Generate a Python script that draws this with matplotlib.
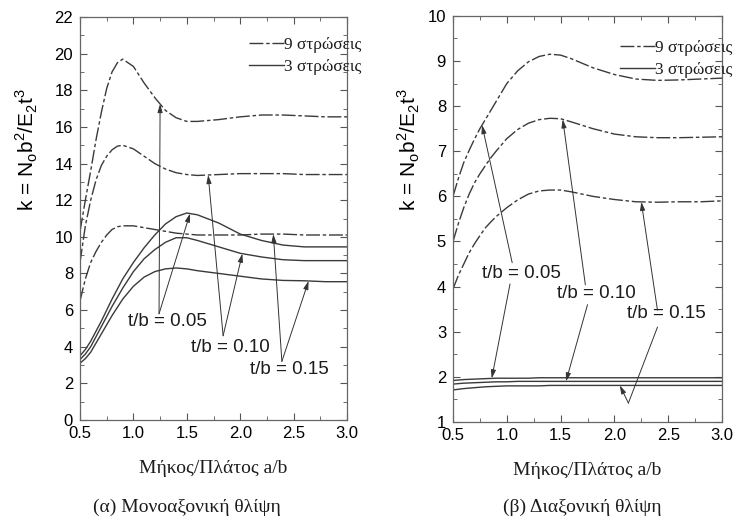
import matplotlib
matplotlib.use("Agg")
import matplotlib.pyplot as plt
from matplotlib.ticker import MultipleLocator, FormatStrFormatter
import numpy as np

ab = [0.5, 0.55, 0.6, 0.65, 0.7, 0.75, 0.8, 0.85, 0.9, 1.0, 1.1, 1.2, 1.3, 1.4,
      1.5, 1.6, 1.8, 2.0, 2.2, 2.4, 2.6, 2.8, 3.0]

# (a) uniaxial compression, 9 layers
uni9_005 = [10.3, 12.0, 13.6, 15.3, 16.8, 18.1, 19.0, 19.5, 19.7, 19.3, 18.4, 17.6,
            16.9, 16.5, 16.3, 16.3, 16.4, 16.55, 16.65, 16.65, 16.6, 16.55, 16.55]
uni9_010 = [8.6, 10.6, 12.0, 13.1, 13.9, 14.4, 14.75, 14.95, 15.0, 14.8, 14.4, 14.0,
            13.7, 13.5, 13.4, 13.35, 13.4, 13.45, 13.45, 13.45, 13.4, 13.4, 13.4]
uni9_015 = [6.5, 7.7, 8.6, 9.2, 9.7, 10.1, 10.4, 10.55, 10.6, 10.6, 10.5, 10.4,
            10.3, 10.2, 10.15, 10.1, 10.1, 10.1, 10.15, 10.15, 10.1, 10.1, 10.1]
# (a) uniaxial compression, 3 layers
uni3_005 = [3.5, 3.85, 4.3, 4.85, 5.4, 6.0, 6.6, 7.15, 7.7, 8.6, 9.4, 10.1,
            10.7, 11.1, 11.3, 11.2, 10.75, 10.15, 9.8, 9.55, 9.45, 9.45, 9.45]
uni3_010 = [3.3, 3.6, 4.0, 4.55, 5.1, 5.65, 6.2, 6.7, 7.2, 8.1, 8.8, 9.3,
            9.7, 9.95, 9.95, 9.8, 9.45, 9.1, 8.9, 8.75, 8.7, 8.7, 8.7]
uni3_015 = [3.1, 3.35, 3.7, 4.2, 4.7, 5.2, 5.7, 6.15, 6.6, 7.3, 7.8, 8.1,
            8.25, 8.3, 8.25, 8.15, 8.0, 7.85, 7.7, 7.62, 7.6, 7.55, 7.55]

# (b) biaxial compression, 9 layers
bi9_005 = [6.0, 6.4, 6.75, 7.02, 7.27, 7.5, 7.7, 7.9, 8.1, 8.5, 8.78, 8.98,
           9.1, 9.15, 9.13, 9.05, 8.85, 8.7, 8.6, 8.57, 8.58, 8.6, 8.62]
bi9_010 = [5.0, 5.4, 5.75, 6.05, 6.3, 6.5, 6.68, 6.85, 7.0, 7.28, 7.48, 7.62,
           7.7, 7.73, 7.72, 7.65, 7.5, 7.38, 7.32, 7.3, 7.3, 7.31, 7.32]
bi9_015 = [3.95, 4.25, 4.5, 4.75, 4.95, 5.13, 5.3, 5.43, 5.55, 5.75, 5.92, 6.05,
           6.12, 6.14, 6.14, 6.1, 6.0, 5.93, 5.88, 5.87, 5.88, 5.88, 5.9]
# (b) biaxial compression, 3 layers
bi3_005 = [1.92, 1.93, 1.94, 1.945, 1.95, 1.955, 1.96, 1.965, 1.97, 1.97, 1.97, 1.97,
           1.98, 1.98, 1.98, 1.98, 1.98, 1.98, 1.98, 1.98, 1.98, 1.98, 1.98]
bi3_010 = [1.84, 1.85, 1.86, 1.865, 1.87, 1.875, 1.88, 1.885, 1.89, 1.89, 1.9, 1.9,
           1.9, 1.9, 1.9, 1.9, 1.9, 1.9, 1.9, 1.9, 1.9, 1.9, 1.9]
bi3_015 = [1.71, 1.725, 1.74, 1.75, 1.76, 1.77, 1.78, 1.785, 1.79, 1.8, 1.8, 1.8,
           1.8, 1.81, 1.81, 1.81, 1.81, 1.81, 1.81, 1.81, 1.81, 1.81, 1.81]

tb_labels = ["t/b = 0.05", "t/b = 0.10", "t/b = 0.15"]
legend_labels = ["9 στρώσεις", "3 στρώσεις"]
xlabel = "Μήκος/Πλάτος a/b"
ylabel = r"k = N$_\mathregular{o}$b$^\mathregular{2}$/E$_\mathregular{2}$t$^\mathregular{3}$"
captions = ["(α) Μονοαξονική θλίψη", "(β) Διαξονική θλίψη"]

SANS = "Liberation Sans"
SERIF = "Liberation Serif"
LINE = "#3a3a3a"
TXT = "#1c1c1c"
DASH9 = (0, (10, 2, 2.5, 2))

plt.rcParams["font.family"] = SANS
plt.rcParams["mathtext.fontset"] = "custom"
plt.rcParams["mathtext.rm"] = SANS

fig = plt.figure(figsize=(7.36, 5.2), dpi=100)
ax_a = fig.add_axes([0.1087, 0.1923, 0.3628, 0.775])
ax_b = fig.add_axes([0.6155, 0.1885, 0.3655, 0.781])


def style_axes(ax, ymin, ymax, ymaj, ymin_step, label_x):
    ax.set_xlim(0.5, 3.0)
    ax.set_ylim(ymin, ymax)
    ax.xaxis.set_major_locator(MultipleLocator(0.5))
    ax.xaxis.set_minor_locator(MultipleLocator(0.25))
    ax.yaxis.set_major_locator(MultipleLocator(ymaj))
    ax.yaxis.set_minor_locator(MultipleLocator(ymin_step))
    ax.xaxis.set_major_formatter(FormatStrFormatter("%.1f"))
    ax.tick_params(which="both", direction="in", top=True, right=True,
                   color="#555555", labelsize=12)
    ax.tick_params(axis="x", pad=4)
    ax.tick_params(axis="y", pad=5)
    ax.tick_params(which="major", length=5, width=0.8)
    ax.tick_params(which="minor", length=3, width=0.6)
    for sp in ax.spines.values():
        sp.set_color("#666666")
        sp.set_linewidth(0.9)
    ax.set_ylabel(ylabel, fontsize=15)
    ax.yaxis.set_label_coords(label_x, 0.67)
    ax.set_xlabel(xlabel, family=SERIF, fontsize=14, color=TXT, labelpad=14)


def arrow(ax, tail, x_target, series):
    # arrow from tail point to the curve at x_target
    y_target = np.interp(x_target, ab, series)
    ax.annotate("", xy=(x_target, y_target), xytext=tail,
                arrowprops=dict(arrowstyle="-|>,head_length=0.5,head_width=0.15",
                                color="#333333", lw=0.7, shrinkA=0, shrinkB=0))


# (a) uniaxial
l9, = ax_a.plot(ab, uni9_005, color=LINE, lw=1.0, ls=DASH9)
ax_a.plot(ab, uni9_010, color=LINE, lw=1.0, ls=DASH9)
ax_a.plot(ab, uni9_015, color=LINE, lw=1.0, ls=DASH9)
l3, = ax_a.plot(ab, uni3_005, color=LINE, lw=1.0)
ax_a.plot(ab, uni3_010, color=LINE, lw=1.0)
ax_a.plot(ab, uni3_015, color=LINE, lw=1.0)
style_axes(ax_a, 0, 22, 2, 1, -0.15)

arrow(ax_a, (1.24, 5.8), 1.25, uni9_005)
arrow(ax_a, (1.24, 5.8), 1.53, uni3_005)
arrow(ax_a, (1.84, 4.6), 1.70, uni9_010)
arrow(ax_a, (1.84, 4.6), 2.02, uni3_010)
arrow(ax_a, (2.39, 3.2), 2.31, uni9_015)
arrow(ax_a, (2.39, 3.2), 2.64, uni3_015)
ax_a.text(1.32, 5.4, tb_labels[0], fontsize=13.5, ha="center", va="center", color=TXT)
ax_a.text(1.91, 3.95, tb_labels[1], fontsize=13.5, ha="center", va="center", color=TXT)
ax_a.text(2.46, 2.75, tb_labels[2], fontsize=13.5, ha="center", va="center", color=TXT)

ax_a.legend([l9, l3], legend_labels, loc="upper left", bbox_to_anchor=(0.6, 0.972),
            frameon=False, handlelength=2.0, handletextpad=0.0, labelspacing=0.35,
            borderpad=0, prop={"family": SERIF, "size": 12.5}, labelcolor=TXT)

# (b) biaxial
m9, = ax_b.plot(ab, bi9_005, color=LINE, lw=1.0, ls=DASH9)
ax_b.plot(ab, bi9_010, color=LINE, lw=1.0, ls=DASH9)
ax_b.plot(ab, bi9_015, color=LINE, lw=1.0, ls=DASH9)
m3, = ax_b.plot(ab, bi3_005, color=LINE, lw=1.0)
ax_b.plot(ab, bi3_010, color=LINE, lw=1.0)
ax_b.plot(ab, bi3_015, color=LINE, lw=1.0)
style_axes(ax_b, 1, 10, 1, 0.5, -0.115)

arrow(ax_b, (1.05, 4.53), 0.77, bi9_005)
arrow(ax_b, (1.03, 4.06), 0.86, bi3_005)
arrow(ax_b, (1.73, 4.04), 1.52, bi9_010)
arrow(ax_b, (1.75, 3.6), 1.55, bi3_010)
arrow(ax_b, (2.40, 3.48), 2.25, bi9_015)
ax_b.plot([2.40, 2.13], [3.1, 1.42], color="#333333", lw=0.7)
arrow(ax_b, (2.13, 1.42), 2.05, bi3_015)
ax_b.text(1.14, 4.3, tb_labels[0], fontsize=13.5, ha="center", va="center", color=TXT)
ax_b.text(1.83, 3.84, tb_labels[1], fontsize=13.5, ha="center", va="center", color=TXT)
ax_b.text(2.48, 3.4, tb_labels[2], fontsize=13.5, ha="center", va="center", color=TXT)

ax_b.legend([m9, m3], legend_labels, loc="upper left", bbox_to_anchor=(0.59, 0.962),
            frameon=False, handlelength=2.0, handletextpad=0.0, labelspacing=0.35,
            borderpad=0, prop={"family": SERIF, "size": 12.5}, labelcolor=TXT)

fig.text(0.254, 0.025, captions[0], family=SERIF, fontsize=14, ha="center",
         va="center", color=TXT)
fig.text(0.791, 0.025, captions[1], family=SERIF, fontsize=14, ha="center",
         va="center", color=TXT)

fig.savefig("out.png", dpi=100)
